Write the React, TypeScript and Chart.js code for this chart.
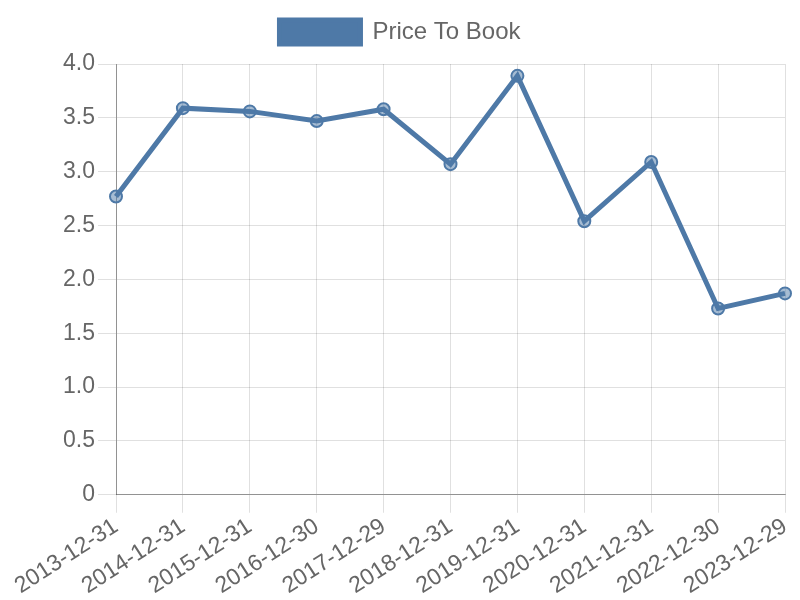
import React, { useEffect, useRef } from "react";
import { Chart, registerables } from "chart.js";

Chart.register(...registerables);

const labels = [
  "2013-12-31", "2014-12-31", "2015-12-31", "2016-12-30", "2017-12-29", "2018-12-31",
  "2019-12-31", "2020-12-31", "2021-12-31", "2022-12-30", "2023-12-29",
];
const priceToBook = [2.77, 3.59, 3.56, 3.47, 3.58, 3.07, 3.89, 2.54, 3.09, 1.73, 1.87];
const seriesName = "Price To Book";
const FONT = "Liberation Sans, Arial, sans-serif";

const legendGap = {
  id: "legendGap",
  beforeInit(chart: any) {
    const legend = chart.legend;
    if (!legend) return;
    const origFit = legend.fit;
    legend.fit = function () {
      origFit.call(this);
      this.height += 10;
    };
  },
};

export default function App() {
  const ref = useRef<HTMLCanvasElement>(null);
  useEffect(() => {
    if (!ref.current) return;
    const chart = new Chart(ref.current, {
      type: "line",
      data: {
        labels,
        datasets: [
          {
            label: seriesName,
            data: priceToBook,
            borderColor: "#4e79a7",
            backgroundColor: "#4e79a7",
            pointBackgroundColor: "rgba(78,121,167,0.5)",
            pointBorderColor: "#4e79a7",
            borderWidth: 5,
            pointRadius: 6,
            pointBorderWidth: 2,
            tension: 0,
          },
        ],
      },
      plugins: [legendGap],
      options: {
        animation: false,
        responsive: false,
        maintainAspectRatio: false,
        layout: { padding: { left: 0, right: 0, top: 10, bottom: 0 } },
        plugins: {
          legend: {
            labels: {
              boxWidth: 81,
              boxHeight: 24,
              color: "#666",
              font: { family: FONT, size: 24 },
            },
          },
          tooltip: { enabled: false },
        },
        scales: {
          x: {
            ticks: {
              color: "#666",
              font: { family: FONT, size: 23 },
              minRotation: 33,
              maxRotation: 33,
              padding: 0,
            },
            grid: { color: "rgba(0,0,0,0.12)", tickLength: 18 },
            border: { color: "rgba(0,0,0,0.35)" },
            afterFit(scale: any) {
              scale.paddingRight = 15;
            },
          },
          y: {
            min: 0,
            max: 4,
            ticks: {
              stepSize: 0.5,
              color: "#666",
              font: { family: FONT, size: 23 },
              callback: (v: any) => (v === 0 ? "0" : Number(v).toFixed(1)),
            },
            grid: { color: "rgba(0,0,0,0.12)", tickLength: 18 },
            border: { color: "rgba(0,0,0,0.35)" },
            afterFit(scale: any) {
              scale.width = 116;
            },
          },
        },
      },
    });
    return () => chart.destroy();
  }, []);
  return (
    <div style={{ position: "fixed", left: 0, top: 0, width: 800, height: 600 }}>
      <canvas ref={ref} width={800} height={600} />
    </div>
  );
}
